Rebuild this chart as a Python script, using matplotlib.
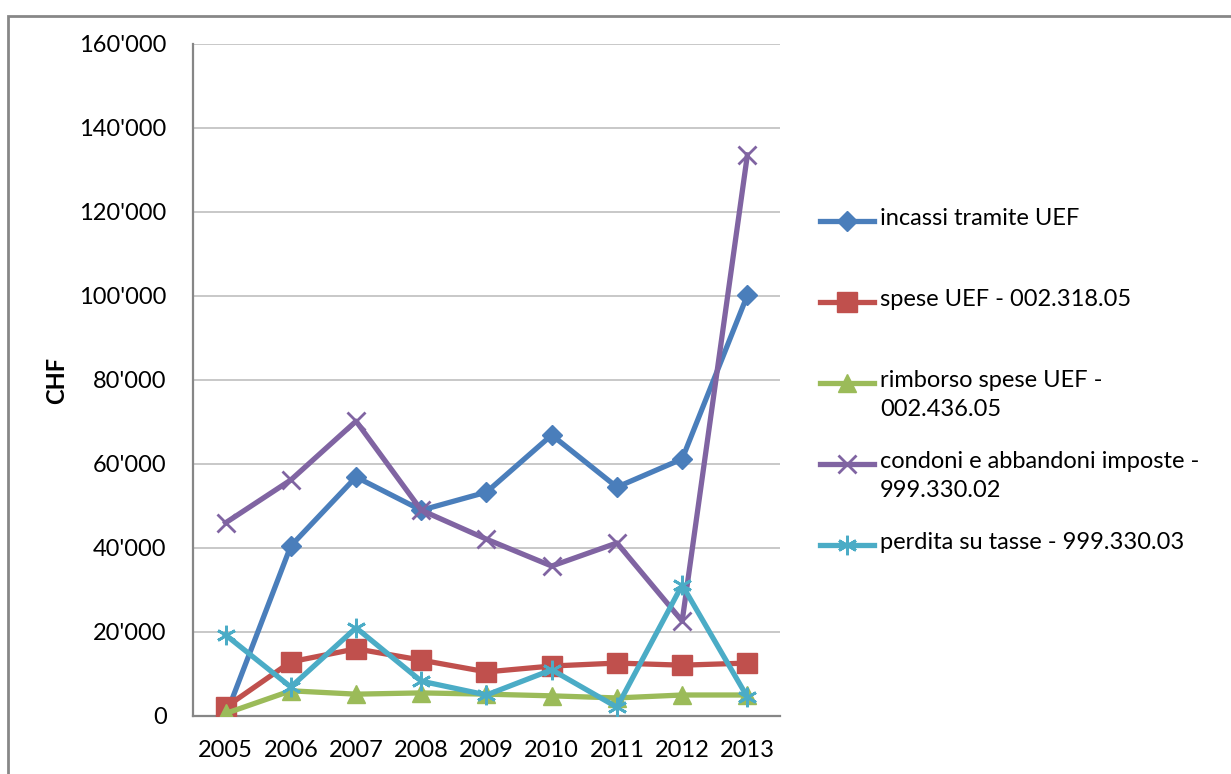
import numpy as np
import matplotlib
matplotlib.use('Agg')
import matplotlib.pyplot as plt
from matplotlib.lines import Line2D
from matplotlib.patches import Rectangle
from matplotlib.ticker import FuncFormatter, MultipleLocator

plt.rcParams['font.family'] = ['Lato', 'DejaVu Sans']

years = ['2005', '2006', '2007', '2008', '2009', '2010', '2011', '2012', '2013']

incassi = [0, 40500, 56900, 49000, 53300, 66900, 54500, 61200, 100200]
spese = [2100, 12900, 16000, 13300, 10500, 11900, 12600, 12100, 12600]
rimborso = [600, 6000, 5200, 5500, 5200, 4800, 4300, 5000, 5000]
condoni = [46000, 56200, 70200, 49000, 42100, 35700, 41200, 22600, 133600]
perdita = [19300, 6900, 21000, 8300, 5000, 11000, 2100, 31200, 4500]

labels = ['incassi tramite UEF',
          'spese UEF - 002.318.05',
          'rimborso spese UEF -\n002.436.05',
          'condoni e abbandoni imposte -\n999.330.02',
          'perdita su tasse - 999.330.03']

series = [incassi, spese, rimborso, condoni, perdita]
colors = ['#4A7EBB', '#C0504D', '#9BBB59', '#8064A2', '#4BACC6']
markers = ['D', 's', '^', 'x', (6, 2, 0)]
msizes = [10, 14, 13, 13, 14]

fig = plt.figure(figsize=(12.31, 7.74), dpi=100)
fig.patch.set_facecolor('white')

# outer chart border (Excel style)
fig.add_artist(Rectangle((8 / 1231, -0.1), 1.2, (774 - 16) / 774 + 0.1,
                         transform=fig.transFigure, fill=False,
                         edgecolor='#878787', linewidth=2))

ax = fig.add_axes([193 / 1231, 58 / 774, 587 / 1231, 672 / 774])
x = np.arange(len(years))

for ys, c, m, ms in zip(series, colors, markers, msizes):
    mew = 2 if m in ('x', (6, 2, 0)) else 1
    ax.plot(x, ys, color=c, linewidth=3.8, marker=m, markersize=ms,
            markeredgewidth=mew, markeredgecolor=c, markerfacecolor=c,
            solid_joinstyle='round', zorder=3)

ax.set_xlim(-0.5, len(years) - 0.5)
ax.set_ylim(0, 160000)
ax.yaxis.set_major_locator(MultipleLocator(20000))
ax.yaxis.set_major_formatter(FuncFormatter(lambda v, p: f'{v:,.0f}'.replace(',', "'")))
ax.set_xticks(x)
ax.set_xticklabels(years)
ax.tick_params(axis='both', length=0, labelsize=17)
ax.tick_params(axis='y', pad=19)
ax.tick_params(axis='x', pad=17)
ax.grid(axis='y', color='#BFBFBF', linewidth=1.2)
ax.set_axisbelow(True)
for s in ['top', 'right']:
    ax.spines[s].set_visible(False)
for s in ['left', 'bottom']:
    ax.spines[s].set_color('#868686')
    ax.spines[s].set_linewidth(1.6)

fig.text(57 / 1231, 1 - 380 / 774, 'CHF', rotation=90, fontsize=17,
         fontweight='bold', ha='center', va='center')

# legend, drawn to follow Excel's layout (handle aligned with first text line)
leg_top = 221
leg_step = 81
for i, (lab, c, m) in enumerate(zip(labels, colors, markers)):
    yc = 1 - (leg_top + i * leg_step) / 774
    mew = 2 if m in ('x', (6, 2, 0)) else 1
    fig.add_artist(Line2D([820 / 1231, 874 / 1231], [yc, yc], transform=fig.transFigure,
                          color=c, linewidth=3.8))
    fig.add_artist(Line2D([847 / 1231], [yc], transform=fig.transFigure,
                          color=c, marker=m, markersize=msizes[i],
                          markeredgewidth=mew, markeredgecolor=c, markerfacecolor=c))
    fig.text(880 / 1231, yc + 13 / 774, lab, fontsize=17, ha='left', va='top',
             linespacing=1.45)

fig.savefig('out.png', dpi=100)
